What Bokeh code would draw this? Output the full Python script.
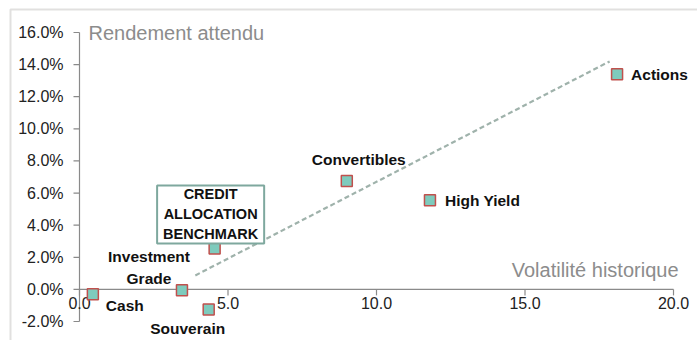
import math
from bokeh.plotting import figure
from bokeh.models import ColumnDataSource, Label, BoxAnnotation, Range1d
from bokeh.embed import file_html
from bokeh.resources import INLINE
from bokeh.core.properties import value

# ---- data ----
names = ["Cash", "Investment\nGrade", "Souverain", "CREDIT\nALLOCATION\nBENCHMARK",
         "Convertibles", "High Yield", "Actions"]
volatility = [0.45, 3.45, 4.35, 4.55, 9.0, 11.8, 18.1]
expected_return = [-0.3, -0.05, -1.25, 2.55, 6.75, 5.55, 13.4]

trend_x = [3.9, 17.85]
trend_y = [0.87, 14.2]

y_ticks = [-2, 0, 2, 4, 6, 8, 10, 12, 14, 16]
y_tick_labels = [f"{t:.1f}%" for t in y_ticks]
x_ticks = [0, 5, 10, 15, 20]
x_tick_labels = ["0.0", "5.0", "10.0", "15.0", "20.0"]

FONT = "Liberation Sans"
AXIS_COLOR = "#8a8a8a"

# plot area fills the canvas; ranges chosen so 0..20 and -2..16 land where the axes are
W, H = 697, 340
LEFT, RIGHT, TOP, BOTTOM = 79, 673, 32, 321
xs = (RIGHT - LEFT) / (x_ticks[-1] - x_ticks[0])
ys = (BOTTOM - TOP) / (y_ticks[-1] - y_ticks[0])
x_range = Range1d(x_ticks[0] - LEFT / xs, x_ticks[-1] + (W - RIGHT) / xs)
y_range = Range1d(y_ticks[0] - (H - BOTTOM) / ys, y_ticks[-1] + TOP / ys)

p = figure(width=W, height=H, output_backend="svg", toolbar_location=None,
           x_range=x_range, y_range=y_range,
           x_axis_location=None, y_axis_location=None,
           min_border=0)
p.outline_line_color = None
p.xgrid.visible = False
p.ygrid.visible = False
p.background_fill_color = "white"
p.border_fill_color = "white"

# y axis (x = 0)
p.segment(x0=[0], y0=[y_ticks[0]], x1=[0], y1=[y_ticks[-1]],
          line_color=AXIS_COLOR, line_width=1.2)
p.ray(x=[0] * len(y_ticks), y=y_ticks, length=6, length_units="screen",
      angle=math.pi, line_color=AXIS_COLOR, line_width=1.2)
p.text(x=[0] * len(y_ticks), y=y_ticks, text=y_tick_labels, x_offset=-16,
       text_align="right", text_baseline="middle", text_font=value(FONT),
       text_font_size="16px", text_color="#222222")

# x axis (y = 0)
p.segment(x0=[x_ticks[0]], y0=[0], x1=[x_ticks[-1]], y1=[0],
          line_color=AXIS_COLOR, line_width=1.2)
p.ray(x=x_ticks, y=[0] * len(x_ticks), length=6, length_units="screen",
      angle=-math.pi / 2, line_color=AXIS_COLOR, line_width=1.2)
p.text(x=x_ticks, y=[0] * len(x_ticks), text=x_tick_labels, y_offset=8,
       text_align="center", text_baseline="top", text_font=value(FONT),
       text_font_size="16px", text_color="#222222")

# trend line
p.line(trend_x, trend_y, line_color="#9fb2ab", line_width=2.2, line_dash="5 3")

# points
src = ColumnDataSource(dict(
    x=volatility, y=expected_return,
    name=[n if "CREDIT" not in n else "" for n in names],
    xo=[13, -33, -21, 0, 12, 15, 14],
    yo=[11, -23, 19, 0, -22, 0, 0],
    al=["left", "center", "center", "center", "center", "left", "left"],
))
p.scatter("x", "y", source=src, marker="square", size=11,
          fill_color="#7ecbbd", line_color="#c0504d", line_width=1.5)
p.text("x", "y", text="name", source=src, x_offset="xo", y_offset="yo",
       text_align="al", text_baseline="middle", text_font=value(FONT),
       text_font_style="bold", text_font_size="15.5px", text_color="#111111",
       text_line_height=1.3)

# benchmark box
bi = 3
p.add_layout(Label(x=volatility[bi], y=expected_return[bi], x_offset=-4, y_offset=34,
                   text=names[bi], text_align="center", text_baseline="middle",
                   text_font=FONT, text_font_style="bold", text_font_size="14.5px",
                   text_color="#111111", text_line_height=1.25,
                   border_line_color="#7ea89e", border_line_width=2,
                   background_fill_color="white", padding=(6, 1)))

# axis titles
p.add_layout(Label(x=0, y=y_ticks[-1], x_offset=9, text="Rendement attendu", text_align="left",
                   text_baseline="middle", text_font=FONT, text_font_size="20px",
                   text_color="#8c8c8c"))
p.add_layout(Label(x=x_ticks[-1], y=0, x_offset=5, y_offset=19, text="Volatilité historique",
                   text_align="right", text_baseline="middle", text_font=FONT,
                   text_font_size="20px", text_color="#8c8c8c"))

# outer frame (clipped by window on right/bottom)
p.add_layout(BoxAnnotation(left=10, right=720, top=9, bottom=380,
                           left_units="canvas", right_units="canvas",
                           top_units="canvas", bottom_units="canvas",
                           fill_alpha=0, line_color="#9d9995", line_width=2))

open("out.html", "w").write(file_html(p, INLINE))
